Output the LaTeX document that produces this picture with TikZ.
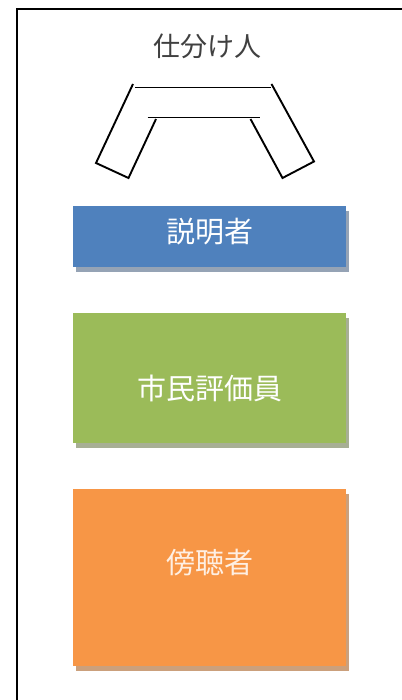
\documentclass[tikz,border=0pt]{standalone}
\usepackage{fontspec}
\newfontfamily\cjk{Noto Sans CJK JP}
\definecolor{cblue}{HTML}{4F81BD}
\definecolor{cgreen}{HTML}{9BBB59}
\definecolor{corange}{HTML}{F79646}
\definecolor{sblue}{HTML}{95A3B5}
\definecolor{sgreen}{HTML}{A7AF94}
\definecolor{sorange}{HTML}{CBA07C}
\begin{document}
\begin{tikzpicture}[x=1pt,y=-1pt,
  box/.style={draw=none,rectangle,minimum width=273pt,inner sep=0pt,outer sep=0pt},
  lbl/.style={text=white,font=\cjk\fontsize{29}{31}\selectfont,inner sep=0pt},
  tbl/.style={line width=1.9pt,black}]
\useasboundingbox (0,0) rectangle (401,700);
\draw[line width=2pt] (16.7,701) -- (16.7,9) -- (402,9);
\node[font=\cjk\fontsize{27}{29}\selectfont,text=black!75,inner sep=0pt] (title) at (207.5,46) {仕分け人};
% table
\coordinate (a1) at (133,84);
\coordinate (a2) at (96,163);
\coordinate (a3) at (128.5,178);
\coordinate (a4) at (156,119);
\coordinate (b1) at (271.5,84);
\coordinate (b2) at (314,161.5);
\coordinate (b3) at (282.5,178);
\coordinate (b4) at (250.5,119);
\coordinate (t1) at (135,87.5);
\coordinate (t2) at (270.5,87.5);
\coordinate (i1) at (147.5,117.5);
\coordinate (i2) at (260,117.5);
\draw[tbl] (a1) -- (a2) -- (a3) -- (a4);
\draw[tbl] (b1) -- (b2) -- (b3) -- (b4);
\draw[tbl] (t1) -- (t2);
\draw[tbl] (i1) -- (i2);
% boxes
\fill[sblue] (76,211) rectangle (349,271.5);
\node[box,fill=cblue,minimum height=60.7pt] (exp) at (209.5,236.3) {};
\node[lbl] (explbl) at (209.5,232) {説明者};
\fill[sgreen] (76,318) rectangle (349,448.3);
\node[box,fill=cgreen,minimum height=130pt] (cit) at (209.5,378.3) {};
\node[lbl] (citlbl) at (209.5,388) {市民評価員};
\fill[sorange] (76,494) rectangle (349,670.7);
\node[box,fill=corange,minimum height=176.7pt] (aud) at (209.5,577.3) {};
\node[lbl,text=white!85!corange] (audlbl) at (209.5,563) {傍聴者};
\end{tikzpicture}
\end{document}
